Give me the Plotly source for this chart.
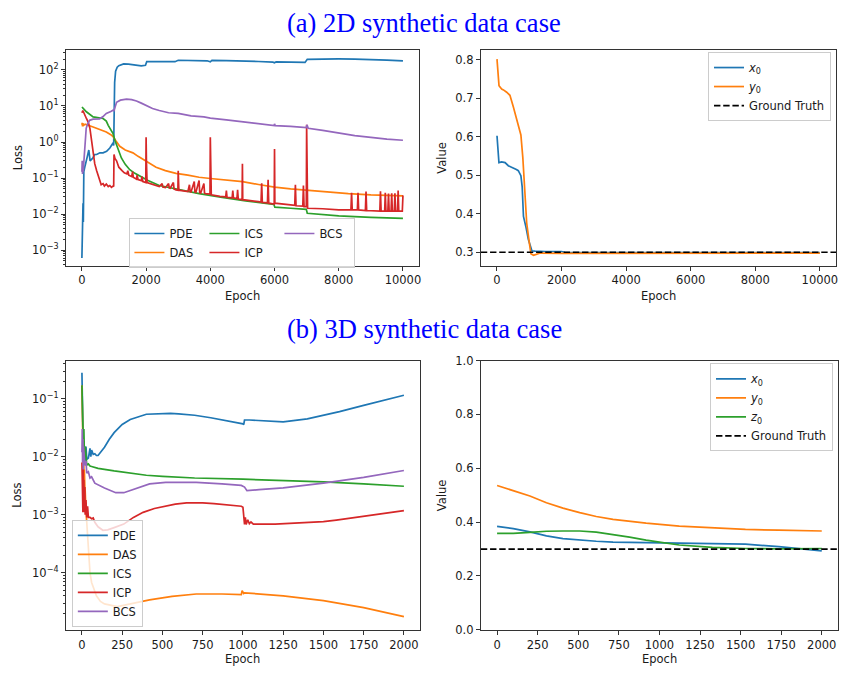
import plotly.graph_objects as go

W, H = 841, 677

# ---------------- (a) 2D case: losses ----------------
pde2_ep = [0, 15, 25, 35, 45, 60, 100, 130, 170, 215, 255, 300, 340, 400, 460, 560, 660, 770, 870, 940, 975, 990,
           1000, 1020, 1050, 1100, 1150, 1300, 1450, 1600, 1850, 1980, 2020, 2500, 2900, 3000, 3500, 3900, 4000,
           4050, 4500, 4950, 5000, 5500, 5950, 6000, 6050, 6500, 6950, 7020, 7500, 8000, 8500, 9000, 9500, 10000]
pde2_val = [0.0006, 0.02, 0.005, 0.02, 0.006, 0.15, 0.22, 0.27, 0.4, 0.6, 0.3, 0.33, 0.36, 0.45, 0.45, 0.5, 0.5,
            0.55, 0.68, 0.85, 0.95, 0.8, 2.4, 45, 92, 120, 132, 148, 145, 140, 130, 135, 170, 172, 170, 186, 185,
            180, 168, 184, 182, 180, 178, 172, 165, 158, 168, 165, 162, 198, 202, 202, 200, 196, 188, 178]

das2_ep = [0, 10, 20, 30, 50, 100, 350, 600, 760, 900, 970, 1050, 1180, 1350, 1590, 1750, 1900, 2100, 2310,
           2600, 2930, 3300, 3650, 4000, 4370, 5000, 5500, 6000, 6500, 7000, 7500, 8000, 8300, 9000, 10000]
das2_val = [3.0, 3.4, 2.7, 3.3, 2.9, 3.1, 2.6, 2.2, 1.9, 1.6, 1.42, 1.1, 0.76, 0.6, 0.5, 0.4, 0.33, 0.25, 0.2,
            0.16, 0.135, 0.12, 0.105, 0.097, 0.089, 0.079, 0.066, 0.056, 0.05, 0.046, 0.042, 0.038, 0.037,
            0.034, 0.032]

ics2_ep = [0, 20, 140, 350, 660, 760, 820, 900, 970, 1030, 1080, 1150, 1230, 1350, 1490, 1650, 1800, 2060,
           2410, 2930, 3650, 4370, 5100, 5980, 6010, 6500, 6990, 7020, 7500, 8000, 9000, 10000]
ics2_val = [8.7, 9.0, 6.9, 5.0, 4.5, 3.8, 2.9, 2.2, 1.7, 1.1, 0.83, 0.55, 0.36, 0.24, 0.17, 0.135, 0.115, 0.085,
            0.062, 0.05, 0.037, 0.029, 0.023, 0.0185, 0.0155, 0.0145, 0.0135, 0.0105, 0.0095, 0.0089, 0.0081,
            0.0076]

icp2_ep = [0, 30, 140, 200, 250, 300, 350, 400, 460, 550, 600, 660, 700, 760, 820, 870, 920, 970, 990,
           1000, 1030, 1080, 1150, 1250, 1320, 1400, 1430, 1460, 1550, 1580, 1600, 1700, 1720, 1750, 1850, 1870,
           1900, 1990, 2000, 2010, 2030, 2200, 2410, 2500, 2520, 2600, 2700, 2720, 2750, 2850, 2870, 2930, 2990,
           3000, 3020, 3300, 3350, 3370, 3400, 3500, 3520, 3550, 3650, 3670, 3700, 3800, 3820, 3850, 3990, 4000,
           4010, 4030, 4300, 4480, 4500, 4520, 4680, 4700, 4720, 4830, 4850, 4870, 4990, 5000, 5010, 5500, 5580,
           5600, 5620, 5780, 5800, 5820, 5990, 6000, 6010, 6500, 6630, 6650, 6670, 6880, 6900, 6920, 6990, 7000,
           7010, 7030, 7500, 8000, 8380, 8400, 8420, 8580, 8600, 8620, 8830, 8850, 8870, 9280, 9300, 9320, 9430,
           9450, 9470, 9530, 9550, 9570, 9630, 9650, 9670, 9730, 9750, 9770, 9830, 9850, 9870, 9980, 10000]
icp2_val = [6.5, 7.5, 4.5, 3.5, 2.4, 1.0, 0.45, 0.25, 0.16, 0.085, 0.065, 0.07, 0.06, 0.068, 0.058, 0.062, 0.055,
            0.06, 0.058, 0.45, 0.35, 0.3, 0.2, 0.16, 0.14, 0.13, 0.16, 0.12, 0.11, 0.15, 0.105, 0.093, 0.12, 0.09,
            0.085, 0.11, 0.08, 0.075, 1.35, 0.3, 0.075, 0.066, 0.058, 0.07, 0.056, 0.054, 0.07, 0.053, 0.052,
            0.075, 0.05, 0.047, 0.046, 0.16, 0.046, 0.042, 0.065, 0.042, 0.041, 0.08, 0.041, 0.04, 0.085, 0.039,
            0.038, 0.07, 0.038, 0.037, 0.036, 1.35, 0.2, 0.034, 0.031, 0.03, 0.045, 0.029, 0.028, 0.045, 0.028,
            0.027, 0.047, 0.026, 0.025, 0.25, 0.025, 0.022, 0.0215, 0.071, 0.021, 0.0205, 0.089, 0.02, 0.019,
            0.64, 0.02, 0.018, 0.0175, 0.065, 0.017, 0.0165, 0.062, 0.016, 0.016, 3.0, 0.2, 0.0145, 0.014, 0.013,
            0.013, 0.039, 0.013, 0.013, 0.039, 0.013, 0.0125, 0.042, 0.0125, 0.012, 0.043, 0.012, 0.012, 0.039,
            0.012, 0.012, 0.037, 0.012, 0.012, 0.038, 0.012, 0.012, 0.038, 0.012, 0.012, 0.045, 0.012, 0.012,
            0.033]

bcs2_ep = [0, 10, 20, 30, 40, 60, 100, 134, 180, 240, 350, 550, 650, 760, 900, 970, 1000, 1040, 1080, 1200,
           1390, 1550, 1700, 1850, 2000, 2200, 2410, 2700, 3000, 3400, 3800, 4000, 4500, 5000, 5500, 5990, 6000,
           6020, 6500, 6990, 7010, 7050, 7500, 8000, 8500, 9000, 9500, 10000]
bcs2_val = [0.15, 0.3, 0.13, 0.25, 0.15, 0.3, 1.2, 2.4, 3.2, 4.0, 4.3, 4.4, 5.0, 6.2, 7.0, 7.6, 7.4, 10, 12.6,
            14.5, 15.5, 15.0, 13.8, 12, 10.2, 8.5, 7.5, 6.5, 6.2, 5.3, 5.0, 4.6, 4.1, 3.6, 3.2, 2.85, 3.2, 2.85,
            2.7, 2.5, 3.0, 2.4, 2.1, 1.8, 1.5, 1.35, 1.2, 1.12]

# ---------------- (a) 2D case: parameters ----------------
x0_2d_ep = [0, 30, 60, 145, 250, 350, 505, 600, 660, 740, 780, 820, 900, 970, 1080, 1180, 1500, 2000, 2100,
            3000, 5000, 7000, 10000]
x0_2d_val = [0.603, 0.56, 0.533, 0.535, 0.533, 0.525, 0.52, 0.515, 0.512, 0.499, 0.47, 0.393, 0.364, 0.334,
             0.304, 0.303, 0.302, 0.302, 0.300, 0.299, 0.299, 0.299, 0.299]
y0_2d_ep = [0, 30, 62, 145, 200, 300, 400, 505, 610, 740, 800, 850, 920, 1000, 1050, 1130, 1340, 2000, 4000,
            7000, 10000]
y0_2d_val = [0.802, 0.76, 0.733, 0.724, 0.722, 0.716, 0.708, 0.678, 0.648, 0.605, 0.546, 0.47, 0.376, 0.325,
             0.296, 0.292, 0.298, 0.297, 0.297, 0.297, 0.298]
gt_2d = 0.3

# ---------------- (b) 3D case: losses ----------------
pde3_ep = [0, 2, 5, 8, 10, 15, 20, 25, 30, 40, 50, 55, 60, 70, 80, 90, 100, 120, 140, 170, 200, 250, 300, 400,
           500, 550, 600, 700, 800, 900, 1000, 1005, 1010, 1040, 1100, 1250, 1400, 1500, 1600, 1750, 1900, 2000]
pde3_val = [0.28, 0.05, 0.02, 0.012, 0.009, 0.012, 0.008, 0.015, 0.009, 0.0095, 0.014, 0.010, 0.013, 0.011,
            0.0113, 0.0105, 0.0105, 0.0125, 0.0146, 0.02, 0.026, 0.036, 0.044, 0.054, 0.056, 0.056, 0.055,
            0.052, 0.047, 0.042, 0.037, 0.036, 0.043, 0.043, 0.042, 0.040, 0.045, 0.052, 0.060, 0.077, 0.098,
            0.115]
das3_ep = [0, 2, 4, 6, 8, 10, 12, 15, 18, 20, 25, 30, 35, 40, 50, 60, 75, 90, 115, 140, 220, 300, 420, 560, 710,
           870, 990, 995, 1005, 1010, 1100, 1250, 1500, 1750, 2000]
das3_val = [0.17, 0.05, 0.02, 0.03, 0.008, 0.012, 0.005, 0.006, 0.003, 0.0026, 0.0012, 0.0007, 0.0004, 0.00019,
            0.0001, 6.8e-5, 5e-5, 4.0e-5, 3.2e-5, 2.9e-5, 2.6e-5, 2.9e-5, 3.4e-5, 3.9e-5, 4.3e-5, 4.3e-5,
            4.2e-5, 4.9e-5, 4.4e-5, 4.5e-5, 4.3e-5, 4.0e-5, 3.3e-5, 2.5e-5, 1.75e-5]
ics3_ep = [0, 2, 5, 8, 12, 15, 20, 25, 30, 40, 50, 60, 100, 200, 300, 400, 500, 700, 1000, 1250, 1500, 1750, 2000]
ics3_val = [0.17, 0.08, 0.05, 0.02, 0.03, 0.012, 0.015, 0.008, 0.0072, 0.0075, 0.0069, 0.0068, 0.0063, 0.0057,
            0.0052, 0.0048, 0.0046, 0.0043, 0.0041, 0.0039, 0.0037, 0.0034, 0.0031]
icp3_ep = [0, 2, 4, 6, 8, 10, 12, 15, 18, 20, 25, 30, 35, 40, 50, 60, 70, 80, 100, 130, 160, 200, 260, 320, 380,
           450, 510, 580, 650, 750, 820, 900, 990, 1000, 1005, 1010, 1015, 1020, 1030, 1040, 1050, 1065, 1200,
           1350, 1500, 1580, 1700, 1790, 1900, 2000]
icp3_val = [0.008, 0.0012, 0.006, 0.0011, 0.007, 0.0013, 0.004, 0.0011, 0.003, 0.001, 0.0018, 0.0009, 0.0014,
            0.0009, 0.0009, 0.00085, 0.00088, 0.00074, 0.00062, 0.00054, 0.00055, 0.0006, 0.00069, 0.0009,
            0.0011, 0.00128, 0.0014, 0.00152, 0.0016, 0.0016, 0.00155, 0.00148, 0.0014, 0.00135, 0.0008,
            0.00068, 0.0009, 0.00068, 0.00082, 0.0007, 0.00075, 0.00069, 0.00069, 0.00072, 0.00076, 0.00081,
            0.0009, 0.00098, 0.00107, 0.00118]
bcs3_ep = [0, 2, 4, 6, 8, 10, 15, 20, 25, 30, 40, 50, 60, 80, 140, 210, 260, 340, 420, 520, 710, 870, 990, 1010,
           1025, 1100, 1250, 1500, 1750, 2000]
bcs3_val = [0.012, 0.03, 0.008, 0.02, 0.006, 0.015, 0.009, 0.007, 0.0085, 0.0052, 0.0055, 0.0043, 0.0045,
            0.0035, 0.0029, 0.0024, 0.0024, 0.0029, 0.0034, 0.0036, 0.0036, 0.0034, 0.0032, 0.0030, 0.0026,
            0.0027, 0.0029, 0.0035, 0.0044, 0.0058]

# ---------------- (b) 3D case: parameters ----------------
x0_3d_ep = [0, 100, 202, 304, 406, 509, 611, 714, 918, 1122, 1326, 1530, 1735, 1900, 2000]
x0_3d_val = [0.384, 0.376, 0.364, 0.349, 0.339, 0.333, 0.329, 0.326, 0.324, 0.322, 0.321, 0.318, 0.309, 0.300,
             0.293]
y0_3d_ep = [0, 100, 202, 304, 406, 509, 611, 714, 918, 1122, 1326, 1530, 1735, 2000]
y0_3d_val = [0.536, 0.517, 0.497, 0.472, 0.452, 0.435, 0.421, 0.41, 0.396, 0.385, 0.378, 0.373, 0.370, 0.367]
z0_3d_ep = [0, 100, 202, 304, 406, 509, 611, 714, 816, 918, 1020, 1122, 1326, 1530, 1735, 2000]
z0_3d_val = [0.358, 0.358, 0.362, 0.366, 0.367, 0.367, 0.363, 0.354, 0.344, 0.333, 0.323, 0.315, 0.306, 0.302,
             0.301, 0.302]
gt_3d = 0.3

loss_names = ["PDE", "DAS", "ICS", "ICP", "BCS"]
colors = ["#1f77b4", "#ff7f0e", "#2ca02c", "#d62728", "#9467bd"]
x_ticks_2d = [0, 2000, 4000, 6000, 8000, 10000]
x_ticks_3d = [0, 250, 500, 750, 1000, 1250, 1500, 1750, 2000]
loss_exps_2d = [-3, -2, -1, 0, 1, 2]
loss_exps_3d = [-4, -3, -2, -1]
val_ticks_2d = [0.3, 0.4, 0.5, 0.6, 0.7, 0.8]
val_ticks_3d = [0.0, 0.2, 0.4, 0.6, 0.8, 1.0]

# ---------------- layout helpers (pixel -> paper) ----------------
def px(x):
    return x / W

def py(y):
    return 1 - y / H

FONT = "DejaVu Sans"
LW = 1.7
AXC = "#333333"
TXT = "#1a1a1a"

def base_axis(domain, anchor):
    return dict(domain=domain, anchor=anchor, showline=True, linecolor=AXC, linewidth=1, mirror=True,
                ticks="outside", ticklen=4, tickwidth=1, tickcolor=AXC, showgrid=False, zeroline=False,
                tickfont=dict(family=FONT, size=11.5, color=TXT), fixedrange=True)

def int_ticks(a, vals):
    a.update(tickmode="array", tickvals=vals, ticktext=[str(v) for v in vals])

def sup(e):
    return "10<sup>" + ("\u2212" + str(-e) if e < 0 else str(e)) + "</sup>"

def log_axis(domain, anchor, rng, exps):
    a = base_axis(domain, anchor)
    lo, hi = int(rng[0]) - 1, int(rng[1]) + 1
    minors = [k * 10.0 ** e for e in range(lo, hi + 1) for k in range(2, 10)]
    a.update(type="log", range=rng, tickmode="array", tickvals=[10.0 ** e for e in exps],
             ticktext=[sup(e) for e in exps],
             minor=dict(tickmode="array", tickvals=minors, ticks="outside", ticklen=2, tickwidth=1,
                        tickcolor=AXC, showgrid=False))
    return a

fig = go.Figure()

loss2 = [(pde2_ep, pde2_val), (das2_ep, das2_val), (ics2_ep, ics2_val), (icp2_ep, icp2_val), (bcs2_ep, bcs2_val)]
groups2 = ["c1", "c1", "c2", "c2", "c3"]
for (ep, v), name, c, g in zip(loss2, loss_names, colors, groups2):
    fig.add_trace(go.Scatter(x=ep, y=v, mode="lines", name=name, line=dict(color=c, width=LW),
                             xaxis="x", yaxis="y", legend="legend", legendgroup=g))

xr2 = [-500, 10500]
fig.add_trace(go.Scatter(x=x0_2d_ep, y=x0_2d_val, mode="lines", name="<i>x</i><sub>0</sub>",
                         line=dict(color=colors[0], width=LW), xaxis="x2", yaxis="y2", legend="legend2"))
fig.add_trace(go.Scatter(x=y0_2d_ep, y=y0_2d_val, mode="lines", name="<i>y</i><sub>0</sub>",
                         line=dict(color=colors[1], width=LW), xaxis="x2", yaxis="y2", legend="legend2"))
fig.add_trace(go.Scatter(x=xr2, y=[gt_2d, gt_2d], mode="lines", name="Ground Truth",
                         line=dict(color="black", width=LW, dash="6.4px,2.8px"), xaxis="x2", yaxis="y2",
                         legend="legend2"))

loss3 = [(pde3_ep, pde3_val), (das3_ep, das3_val), (ics3_ep, ics3_val), (icp3_ep, icp3_val), (bcs3_ep, bcs3_val)]
for (ep, v), name, c in zip(loss3, loss_names, colors):
    fig.add_trace(go.Scatter(x=ep, y=v, mode="lines", name=name, line=dict(color=c, width=LW),
                             xaxis="x3", yaxis="y3", legend="legend3"))

xr3 = [-100, 2100]
for ep, v, name, c in [(x0_3d_ep, x0_3d_val, "<i>x</i><sub>0</sub>", colors[0]),
                       (y0_3d_ep, y0_3d_val, "<i>y</i><sub>0</sub>", colors[1]),
                       (z0_3d_ep, z0_3d_val, "<i>z</i><sub>0</sub>", colors[2])]:
    fig.add_trace(go.Scatter(x=ep, y=v, mode="lines", name=name, line=dict(color=c, width=LW),
                             xaxis="x4", yaxis="y4", legend="legend4"))
fig.add_trace(go.Scatter(x=xr3, y=[gt_3d, gt_3d], mode="lines", name="Ground Truth",
                         line=dict(color="black", width=LW, dash="6.4px,2.8px"), xaxis="x4", yaxis="y4",
                         legend="legend4"))

# domains (pixels)
TLx, TRx = [px(66), px(420)], [px(482), px(838)]
BLx, BRx = [px(66), px(421)], [px(482), px(840)]
Ty, By = [py(264), py(44)], [py(636), py(361)]

xa1 = base_axis(TLx, "y"); xa1.update(range=xr2); int_ticks(xa1, x_ticks_2d)
ya1 = log_axis(Ty, "x", [-3.43, 2.552], loss_exps_2d)
xa2 = base_axis(TRx, "y2"); xa2.update(range=xr2); int_ticks(xa2, x_ticks_2d)
ya2 = base_axis(Ty, "x2"); ya2.update(range=[0.2655, 0.8255], tickvals=val_ticks_2d, tickformat=".1f")
xa3 = base_axis(BLx, "y3"); xa3.update(range=xr3); int_ticks(xa3, x_ticks_3d)
ya3 = log_axis(By, "x3", [-4.985, -0.341], loss_exps_3d)
xa4 = base_axis(BRx, "y4"); xa4.update(range=xr3); int_ticks(xa4, x_ticks_3d)
ya4 = base_axis(By, "x4"); ya4.update(range=[0, 1], tickvals=val_ticks_3d, tickformat=".1f")

leg_common = dict(font=dict(family=FONT, size=11.5, color=TXT), bgcolor="rgba(255,255,255,0.8)",
                  bordercolor="#cccccc", borderwidth=1)

annots = []
def text(x, y, s, size=11.5, angle=0, color=TXT, family=FONT):
    annots.append(dict(x=px(x), y=py(y), xref="paper", yref="paper", text=s, showarrow=False,
                       xanchor="center", yanchor="middle", textangle=angle,
                       font=dict(family=family, size=size, color=color)))

text(425.5, 16, "(a) 2D synthetic data case", size=26.5, color="#0000ff", family="Liberation Serif")
text(425.5, 329, "(b) 3D synthetic data case", size=26.5, color="#0000ff", family="Liberation Serif")
text(243, 295, "Epoch")
text(660, 295, "Epoch")
text(243, 666, "Epoch")
text(661, 666, "Epoch")
text(17.5, 154, "Loss", angle=-90)
text(17.5, 498.5, "Loss", angle=-90)
text(443, 154, "Value", angle=-90)
text(443, 498.5, "Value", angle=-90)

fig.update_layout(
    width=W, height=H, margin=dict(l=0, r=0, t=0, b=0), autosize=False,
    paper_bgcolor="white", plot_bgcolor="white",
    xaxis=xa1, yaxis=ya1, xaxis2=xa2, yaxis2=ya2, xaxis3=xa3, yaxis3=ya3, xaxis4=xa4, yaxis4=ya4,
    legend=dict(leg_common, orientation="h", traceorder="grouped", x=px(243), y=py(241),
                xanchor="center", yanchor="middle", entrywidth=30, tracegroupgap=0),
    legend2=dict(leg_common, x=px(833), y=py(46), xanchor="right", yanchor="top"),
    legend3=dict(leg_common, x=px(72), y=py(633), xanchor="left", yanchor="bottom"),
    legend4=dict(leg_common, x=px(835), y=py(364), xanchor="right", yanchor="top"),
    annotations=annots,
    font=dict(family=FONT),
)

fig.write_html("out.html")
